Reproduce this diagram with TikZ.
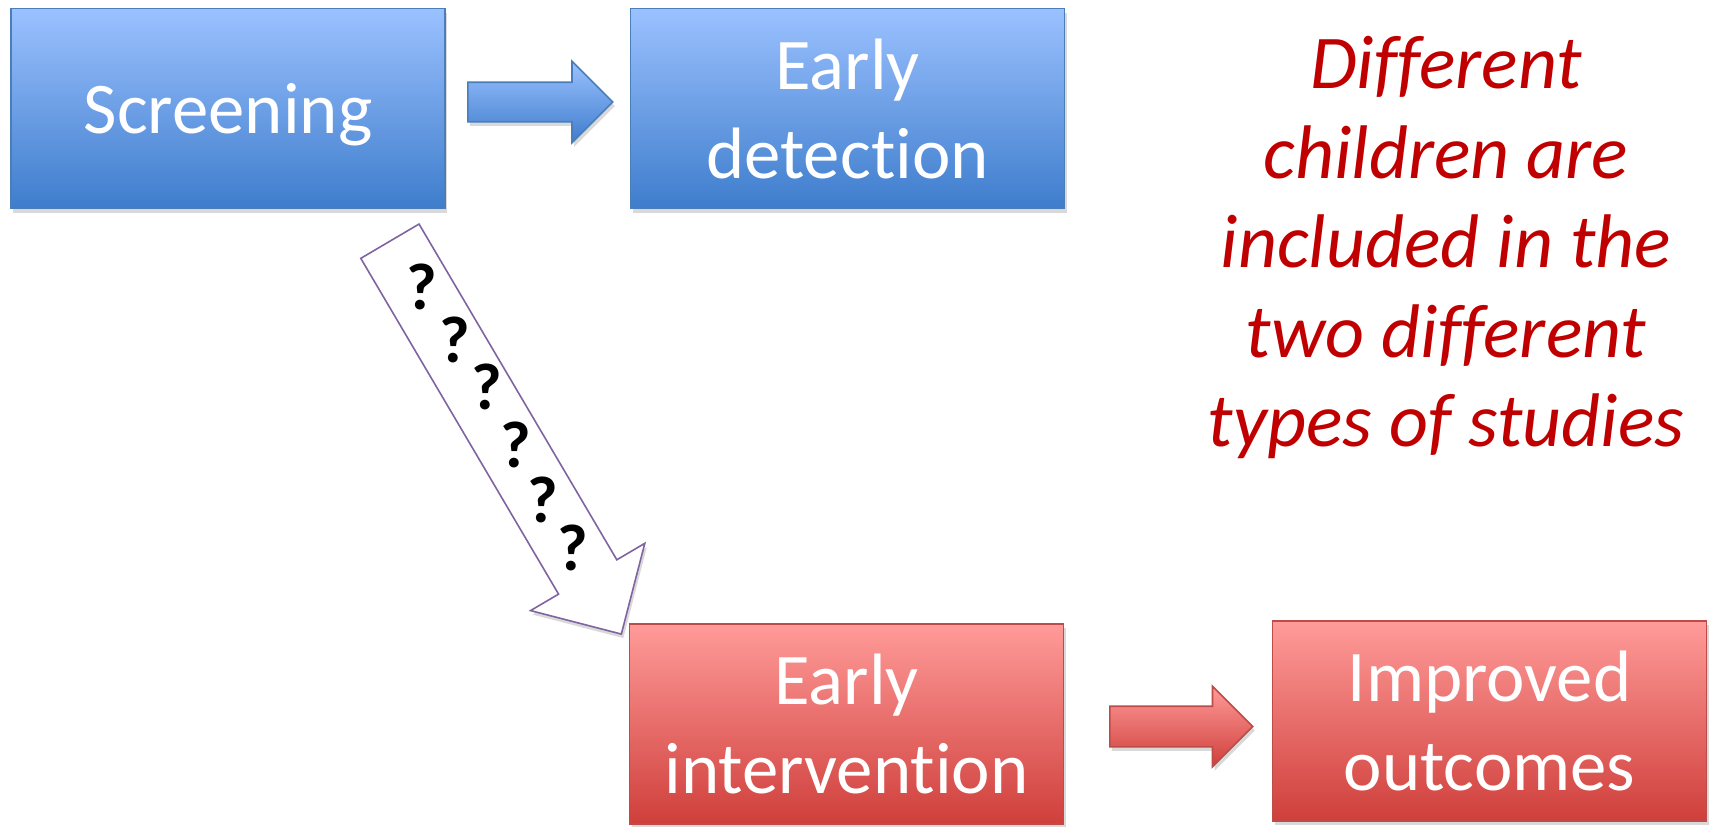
\documentclass[tikz,border=0pt]{standalone}
\usepackage{fontspec}
\setmainfont{Carlito}[Ligatures=NoCommon]
\usetikzlibrary{shapes.arrows,shadows}
\definecolor{stageBlueTop}{RGB}{155,193,255}
\definecolor{stageBlueBot}{RGB}{62,125,204}
\definecolor{stageBlueEdge}{RGB}{74,126,187}
\definecolor{stageRedTop}{RGB}{255,155,153}
\definecolor{stageRedBot}{RGB}{207,63,59}
\definecolor{stageRedEdge}{RGB}{190,75,72}
\definecolor{askEdge}{RGB}{128,100,162}
\definecolor{noteRed}{RGB}{192,0,0}

\tikzset{
  softshadow/.style={drop shadow={opacity=0.3,shadow xshift=1pt,shadow yshift=-2pt}},
  stage/.style={rectangle,minimum width=217pt,minimum height=100pt,inner sep=0pt,
    align=center,text=white,text depth=0pt,line width=0.8pt,softshadow,
    font=\fontsize{36.4}{44.5}\selectfont},
  bluestage/.style={stage,draw=stageBlueEdge,top color=stageBlueTop,bottom color=stageBlueBot},
  redstage/.style={stage,draw=stageRedEdge,top color=stageRedTop,bottom color=stageRedBot},
  fatarrow/.style={single arrow,inner xsep=0pt,anchor=tail,single arrow head indent=0pt,
    line width=0.8pt,softshadow},
}

\begin{document}
\begin{tikzpicture}[x=0.5pt,y=-0.5pt]
  \useasboundingbox (0,0) rectangle (1714,826);
  % the four stages
  \node[bluestage] (screen) at (228,108.5) {Screening};
  \node[bluestage] (detect) at (847.5,108.5) {Early\\detection};
  \node[redstage] (interv) at (846.5,724) {Early\\intervention};
  \node[redstage] (improv) at (1489.5,721) {Improved\\outcomes};
  % block arrows between them
  \node[fatarrow,draw=stageBlueEdge,top color=stageBlueTop,bottom color=stageBlueBot,
    minimum height=72.5pt,inner ysep=9.5pt,single arrow head extend=10.5pt] (toDetect) at (467,102) {};
  \node[fatarrow,draw=stageRedEdge,top color=stageRedTop,bottom color=stageRedBot,
    minimum height=71.5pt,inner ysep=9.75pt,single arrow head extend=10pt] (toImprov) at (1109,726.5) {};
  % the uncertain link
  \node[fatarrow,draw=askEdge,fill=white,rotate=-59.5,
    minimum height=228pt,inner ysep=16.5pt,single arrow head extend=16.25pt] (toInterv) at (389.5,240.5) {};
  \foreach \qx/\qy [count=\qi] in {422/287,455/340,487/387,516/445,543/500,573/548}
    \node[font=\fontsize{33}{33}\bfseries\selectfont,inner sep=0pt] (ask\qi) at (\qx,\qy) {?};
  % side note
  \node[align=center,text=noteRed,font=\fontsize{38}{44.75}\itshape\selectfont,inner sep=0pt] (note) at (1446,247.5)
    {Different\\children are\\included in the\\two different\\types of studies};
\end{tikzpicture}
\end{document}
